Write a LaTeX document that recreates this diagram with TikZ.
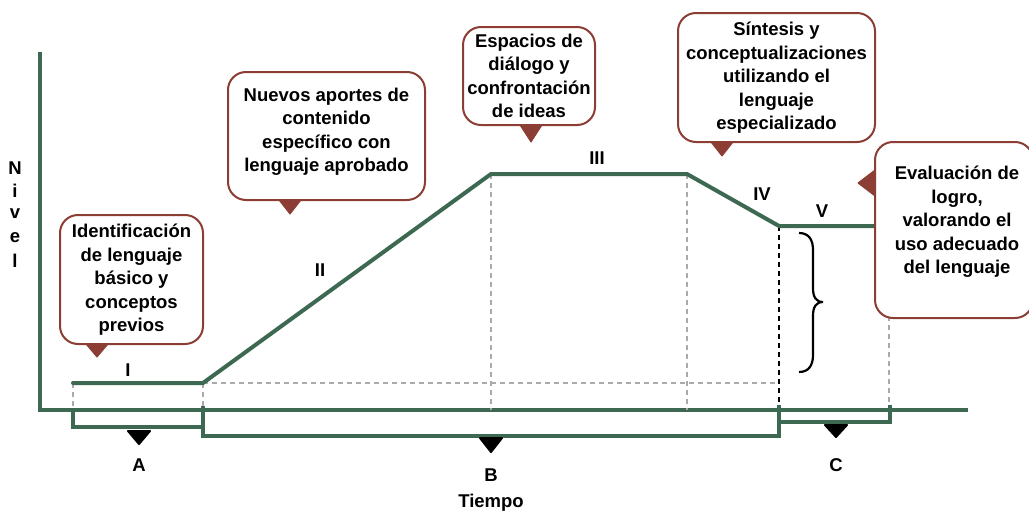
\documentclass[tikz,border=0pt]{standalone}
\usepackage{fontspec}
\setmainfont{Liberation Sans}
\usetikzlibrary{calc}
\definecolor{grn}{RGB}{61,104,82}
\definecolor{brn}{RGB}{140,62,52}
\definecolor{dgray}{RGB}{170,170,170}
\tikzset{
  curve/.style={draw=grn, line width=4pt, line cap=round, line join=round},
  axis/.style={draw=grn, line width=4pt},
  bracket/.style={draw=grn, line width=3.5pt, line join=miter},
  guide/.style={draw=dgray, line width=1.6pt, dash pattern=on 5pt off 4pt},
  guideblk/.style={draw=black, line width=1.6pt, dash pattern=on 5pt off 4pt},
  callbox/.style={draw=brn, line width=2pt, fill=white, rounded corners=18pt, inner sep=0pt},
  calltext/.style={font=\bfseries\fontsize{18.5}{23.5}\selectfont, align=center, inner sep=0pt},
  lbl/.style={font=\bfseries\fontsize{18.5}{20}\selectfont, inner sep=0pt},
  ptr/.style={fill=brn, draw=brn, line width=1pt, line join=round},
  tmark/.style={fill=black, draw=black, line width=2pt, line join=round},
}
\begin{document}
\begin{tikzpicture}[x=1pt,y=-1pt]
\useasboundingbox (0,0) rectangle (1029,514);
% coordinates of the level curve
\coordinate (p0) at (73,383);
\coordinate (p1) at (203,383);
\coordinate (p2) at (491,174);
\coordinate (p3) at (687,174);
\coordinate (p4) at (779,226);
\coordinate (p5) at (889,226);
\coordinate (ax0) at (40,52);
\coordinate (axo) at (40,410);
\coordinate (ax1) at (968,410);
% axes
\draw[axis] (ax0) -- (axo) -- (ax1);
% guides
\draw[guide] (p0) -- (73,410);
\draw[guide] (p1) -- (203,410);
\draw[guide] (p1) -- (779,383);
\draw[guide] (p2) -- (491,410);
\draw[guide] (p3) -- (687,410);
\draw[guideblk] (p4) -- (779,410);
\draw[guide] (p5) -- (889,410);
% brackets
\draw[bracket] (73,408) -- (73,427) -- (203,427);
\draw[bracket] (203,406) -- (203,436) -- (779,436) -- (779,405);
\draw[bracket] (779,422) -- (890,422) -- (890,405);
% curve
\draw[curve] (p0) -- (p1) -- (p2) -- (p3) -- (p4) -- (p5);
% markers
\filldraw[tmark] (128,431) -- (150,431) -- (139,444) -- cycle;
\filldraw[tmark] (480,438) -- (502,438) -- (491,452) -- cycle;
\filldraw[tmark] (825,425) -- (847,425) -- (836,437) -- cycle;
\node[lbl] (lA) at (139,465) {A};
\node[lbl] (lB) at (491,475) {B};
\node[lbl] (lC) at (836,465) {C};
\node[lbl] (lT) at (491,503) {Tiempo};
% stage labels
\node[lbl] (s1) at (128,370) {I};
\node[lbl] (s2) at (320,270) {II};
\node[lbl] (s3) at (597,158) {III};
\node[lbl] (s4) at (762,194) {IV};
\node[lbl] (s5) at (822,211) {V};
% vertical axis label
\node[lbl] (n1) at (15,168) {N};
\node[lbl] (n2) at (15,191) {i};
\node[lbl] (n3) at (15,214) {v};
\node[lbl] (n4) at (15,238) {e};
\node[lbl] (n5) at (15,261) {l};
% brace
\draw[line width=2.2pt, black] (799,233) .. controls (809,233) and (813,240) .. (813,250) -- (813,288) .. controls (813,297) and (816,302) .. (823,302) .. controls (816,302) and (813,307) .. (813,316) -- (813,355) .. controls (813,365) and (809,372) .. (799,372);
% callouts
\node[callbox, minimum width=143pt, minimum height=129pt] (b1) at (131.5,279.5) {};
\filldraw[ptr] (86,344) -- (108,344) -- (97,357) -- cycle;
\node[calltext] (t1) at (131.5,280) {Identificación\\de lenguaje\\básico y\\conceptos\\previos};

\node[callbox, minimum width=197pt, minimum height=128pt] (b2) at (326.5,136) {};
\filldraw[ptr] (279,200) -- (301,200) -- (290,214) -- cycle;
\node[calltext] (t2) at (326.5,132) {Nuevos aportes de\\contenido\\específico con\\lenguaje aprobado};

\node[callbox, minimum width=132pt, minimum height=98pt] (b3) at (529,76) {};
\filldraw[ptr] (520,125) -- (542,125) -- (531,142) -- cycle;
\node[calltext] (t3) at (529,76) {Espacios de\\diálogo y\\confrontación\\de ideas};

\node[callbox, minimum width=197pt, minimum height=129pt] (b4) at (776.5,77.5) {};
\filldraw[ptr] (711,142) -- (733,142) -- (722,156) -- cycle;
\node[calltext] (t4) at (776.5,78) {Síntesis y\\conceptualizaciones\\utilizando el\\lenguaje\\especializado};

\node[callbox, minimum width=158pt, minimum height=176pt] (b5) at (954,230) {};
\filldraw[ptr] (875,170) -- (858,183) -- (875,196) -- cycle;
\node[calltext] (t5) at (957,222) {Evaluación de\\logro,\\valorando el\\uso adecuado\\del lenguaje};
\end{tikzpicture}
\end{document}
